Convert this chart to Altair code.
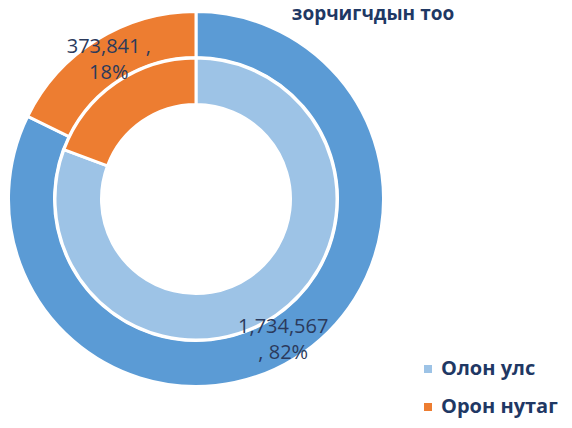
import altair as alt
import pandas as pd

categories = ["Олон улс", "Орон нутаг"]
outer_values = [1734567, 373841]
inner_values = [80.7, 19.3]  # estimated shares of inner ring
title_text = "зорчигчдын тоо"

total = sum(outer_values)
labels = [
    f"{outer_values[0]:,}\n, {round(outer_values[0] / total * 100)}%",
    f"{outer_values[1]:,} ,\n{round(outer_values[1] / total * 100)}%",
]

outer_df = pd.DataFrame({"cat": categories, "value": outer_values, "label": labels, "order": [0, 1]})
inner_df = pd.DataFrame({"cat": categories, "value": inner_values, "order": [0, 1]})

CX, CY = 188, 191

outer_base = alt.Chart(outer_df).encode(
    theta=alt.Theta("value:Q", stack=True),
    order=alt.Order("order:Q"),
    x=alt.value(CX),
    y=alt.value(CY),
)

outer_arc = outer_base.mark_arc(radius=187.5, radius2=141.5, stroke="white", strokeWidth=3).encode(
    color=alt.Color(
        "cat:N",
        scale=alt.Scale(domain=categories, range=["#5B9BD5", "#ED7D31"]),
        legend=None,
    )
)

outer_text = outer_base.mark_text(
    radius=165, lineBreak="\n", fontSize=20, font="Open Sans", fontWeight="normal",
    color="#2B3A5C", lineHeight=26, align="center", baseline="middle", dy=-12
).encode(text="label:N")

inner_arc = alt.Chart(inner_df).mark_arc(radius=141, radius2=94.5, stroke="white", strokeWidth=3).encode(
    theta=alt.Theta("value:Q", stack=True),
    order=alt.Order("order:Q"),
    x=alt.value(CX),
    y=alt.value(CY),
    color=alt.Color(
        "cat:N",
        scale=alt.Scale(domain=categories, range=["#9DC3E6", "#ED7D31"]),
        legend=alt.Legend(
            title=None, orient="none", legendX=410, legendY=351,
            symbolType="square", symbolSize=64, symbolStrokeWidth=0,
            labelFontSize=20, labelFont="Open Sans", labelFontWeight="bold",
            labelColor="#1F3864", labelOffset=3, rowPadding=18, padding=0,
            labelLimit=300,
        ),
    ),
)

title = alt.Chart(pd.DataFrame({"t": [title_text]})).mark_text(
    fontSize=19, font="Open Sans", fontWeight="bold", color="#1F3864",
    align="center", baseline="alphabetic"
).encode(text="t:N", x=alt.value(365), y=alt.value(12))

chart = alt.layer(outer_arc, inner_arc, outer_text, title).resolve_scale(
    color="independent", theta="independent"
).properties(
    width=556, height=412, padding=0,
    autosize=alt.AutoSizeParams(type="none"),
).configure_view(stroke=None)

chart.save("out.html", embed_options={"renderer": "svg", "actions": False})
